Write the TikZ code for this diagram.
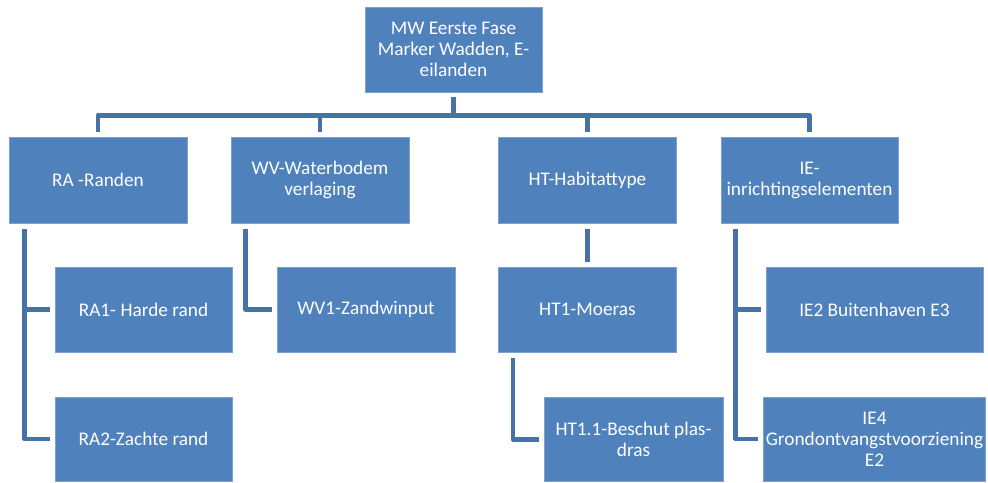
\documentclass[tikz,border=0pt]{standalone}
\usepackage{fontspec}
\setmainfont{Carlito}
\definecolor{boxfill}{HTML}{4F81BD}
\definecolor{boxedge}{HTML}{7EA2D0}
\definecolor{linkcol}{HTML}{4672A8}
\tikzset{
  orgbox/.style={rectangle, fill=boxfill, draw=boxedge, line width=0.8pt,
    inner sep=2pt, minimum width=178pt, minimum height=85pt, align=center,
    text=white, font=\fontsize{19.3}{21}\selectfont},
  widebox/.style={orgbox, minimum width=217pt},
  link/.style={draw=linkcol, line width=4.6pt, line join=round}
}
\begin{document}
\begin{tikzpicture}[x=1pt,y=-1pt]
\useasboundingbox[fill=white] (0,0) rectangle (988,482);
% nodes
\node[orgbox, minimum width=177pt] (top) at (453.5,49.5) {MW Eerste Fase\\Marker Wadden, E-\\eilanden};
\node[orgbox, minimum height=86pt] (RA) at (98,180) {RA -Randen};
\node[orgbox, minimum height=86pt] (WV) at (320,180) {WV-Waterbodem\\verlaging};
\node[orgbox, minimum height=86pt] (HT) at (587.5,180) {HT-Habitattype};
\node[orgbox, minimum height=86pt, minimum width=177pt] (IE) at (809.5,180) {IE-\\inrichtingselementen};
\node[orgbox, minimum width=177pt] (RA1) at (143.5,309.5) {RA1- Harde rand};
\node[orgbox, minimum width=177pt, minimum height=84pt] (RA2) at (143.5,439) {RA2-Zachte rand};
\node[orgbox] (WV1) at (366,309.5) {WV1-Zandwinput};
\node[orgbox] (HT1) at (587.5,309.5) {HT1-Moeras};
\node[orgbox, minimum width=179pt, minimum height=84pt] (HT11) at (633.5,439.5) {HT1.1-Beschut plas-\\dras};
\node[widebox] (IE2) at (874.5,309.5) {IE2 Buitenhaven E3};
\node[widebox, minimum height=84pt] (IE4) at (874.5,439) {IE4\\Grondontvangstvoorziening\\E2};
% top level connectors
\foreach \c in {RA,WV,HT,IE}{
  \draw[link] ([yshift=-5pt]top.south) -- ++(0,18) -| ([yshift=5pt]\c.north);
}
% RA children
\draw[link] ([xshift=16pt,yshift=-6pt]RA.south west) |- ([xshift=-5pt]RA1.west);
\draw[link] ([xshift=16pt,yshift=-6pt]RA.south west) |- ([xshift=-5pt]RA2.west);
% WV child
\draw[link] ([xshift=15pt,yshift=-6pt]WV.south west) |- ([xshift=-5pt]WV1.west);
% HT child
\draw[link] ([yshift=-6pt]HT.south) -- ([yshift=5pt]HT1.north);
% HT1 child
\draw[link] ([xshift=15pt,yshift=-6pt]HT1.south west) |- ([xshift=-5pt]HT11.west);
% IE children
\draw[link] ([xshift=15pt,yshift=-6pt]IE.south west) |- ([xshift=-5pt]IE2.west);
\draw[link] ([xshift=15pt,yshift=-6pt]IE.south west) |- ([xshift=-5pt]IE4.west);
\end{tikzpicture}
\end{document}
